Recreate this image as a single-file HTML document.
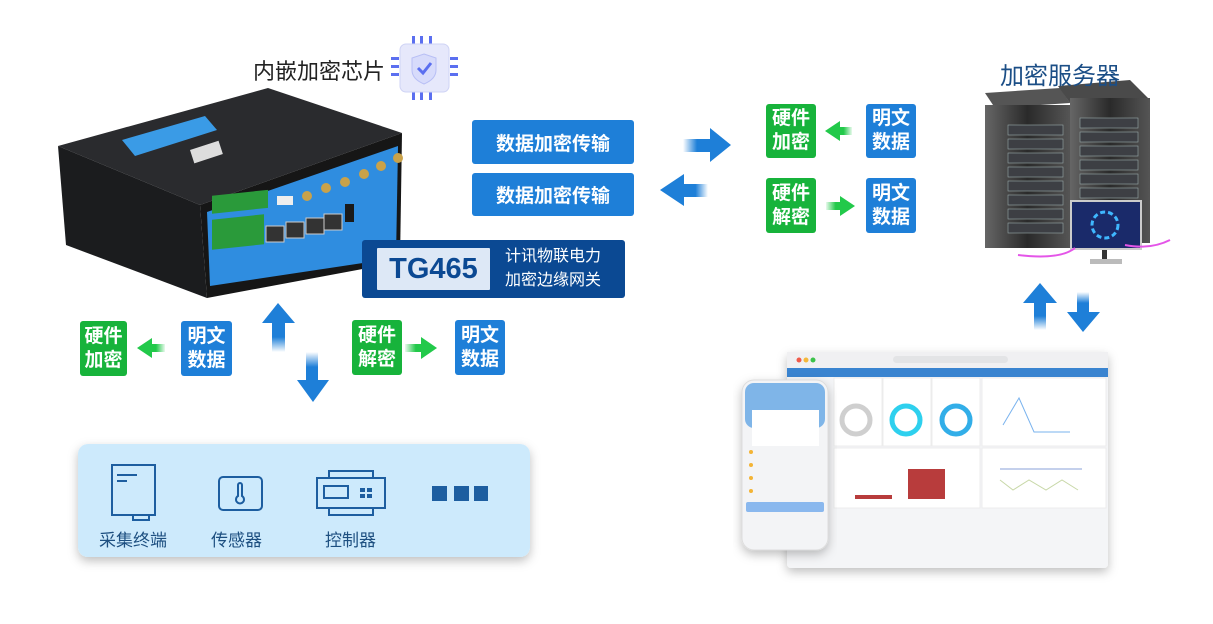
<!DOCTYPE html>
<html><head><meta charset="utf-8"><style>
html,body{margin:0;padding:0;background:#fff;}
body{width:1213px;height:624px;position:relative;overflow:hidden;font-family:"Liberation Sans","Noto Sans CJK SC",sans-serif;}
.b{position:absolute;color:#fff;font-weight:bold;display:flex;align-items:center;justify-content:center;text-align:center;border-radius:3px;}
.blue{background:#1e7fd8;}
.green{background:#17b33b;}
.sq{font-size:19px;line-height:24px;width:50px;height:55px;}
.t{position:absolute;white-space:nowrap;}
</style></head><body>
<svg width="1213" height="624" style="position:absolute;left:0;top:0">
<defs>
<linearGradient id="fu" x1="0" y1="1" x2="0" y2="0"><stop offset="0" stop-color="#1e7fd8" stop-opacity="0"/><stop offset="0.5" stop-color="#1e7fd8"/></linearGradient>
<linearGradient id="fd" x1="0" y1="0" x2="0" y2="1"><stop offset="0" stop-color="#1e7fd8" stop-opacity="0"/><stop offset="0.5" stop-color="#1e7fd8"/></linearGradient>
<linearGradient id="fr" x1="0" y1="0" x2="1" y2="0"><stop offset="0" stop-color="#1e7fd8" stop-opacity="0"/><stop offset="0.5" stop-color="#1e7fd8"/></linearGradient>
<linearGradient id="fl" x1="1" y1="0" x2="0" y2="0"><stop offset="0" stop-color="#1e7fd8" stop-opacity="0"/><stop offset="0.5" stop-color="#1e7fd8"/></linearGradient>
<linearGradient id="gr" x1="0" y1="0" x2="1" y2="0"><stop offset="0" stop-color="#22c94a" stop-opacity="0.1"/><stop offset="0.6" stop-color="#22c94a"/></linearGradient>
<linearGradient id="gl" x1="1" y1="0" x2="0" y2="0"><stop offset="0" stop-color="#22c94a" stop-opacity="0.1"/><stop offset="0.6" stop-color="#22c94a"/></linearGradient>
<linearGradient id="rack" x1="0" y1="0" x2="1" y2="0"><stop offset="0" stop-color="#666"/><stop offset="0.5" stop-color="#2a2a2a"/><stop offset="1" stop-color="#555"/></linearGradient>
<filter id="sh" x="-10%" y="-10%" width="120%" height="130%"><feDropShadow dx="0" dy="4" stdDeviation="5" flood-opacity="0.25"/></filter>
</defs>
<!-- chip -->
<g fill="#5b6ff0">
<rect x="412" y="36" width="3" height="8"/><rect x="420" y="36" width="3" height="8"/><rect x="429" y="36" width="3" height="8"/>
<rect x="412" y="92" width="3" height="8"/><rect x="420" y="92" width="3" height="8"/><rect x="429" y="92" width="3" height="8"/>
<rect x="391" y="57" width="8" height="3"/><rect x="391" y="65" width="8" height="3"/><rect x="391" y="73" width="8" height="3"/>
<rect x="450" y="57" width="8" height="3"/><rect x="450" y="65" width="8" height="3"/><rect x="450" y="73" width="8" height="3"/>
</g>
<rect x="400" y="44" width="49" height="48" rx="6" fill="#e6e8fb" stroke="#cfd3f5"/>
<path d="M424 54 L436 58 L436 70 Q436 79 424 84 Q412 79 412 70 L412 58 Z" fill="#d7dbfb" stroke="#b8bff5"/>
<path d="M418 68 L423 73 L431 63" fill="none" stroke="#5b6ff0" stroke-width="3"/>
<!-- router -->
<polygon points="58,146 268,88 402,133 200,205" fill="#2a2b2e"/>
<polygon points="58,146 200,205 207,298 66,245" fill="#1b1c1e"/>
<polygon points="200,205 402,133 400,262 207,298" fill="#161616"/>
<polygon points="207,212 398,146 396,258 210,286" fill="#2f8de0"/>
<polygon points="122,140 205,116 217,130 135,156" fill="#3a9be6"/>
<rect x="190" y="150" width="30" height="14" fill="#ddd" transform="rotate(-18 190 150)"/>
<g fill="#2a9a3a"><rect x="212" y="218" width="56" height="18" transform="skewY(-6)"/><rect x="212" y="242" width="52" height="30" transform="skewY(-6)"/></g>
<g fill="#333" stroke="#ccc"><rect x="266" y="226" width="18" height="16"/><rect x="286" y="222" width="18" height="16"/><rect x="306" y="218" width="18" height="16"/><rect x="324" y="214" width="18" height="16"/></g>
<rect x="277" y="196" width="16" height="9" fill="#eee"/><rect x="345" y="204" width="9" height="18" fill="#1a1a1a"/>
<g fill="#c9a24a"><circle cx="307" cy="196" r="5"/><circle cx="326" cy="188" r="5"/><circle cx="345" cy="182" r="5"/><circle cx="364" cy="174" r="5"/><circle cx="381" cy="166" r="5"/><circle cx="398" cy="158" r="5"/></g>
<!-- big blue arrows center -->
<rect x="683" y="139" width="28" height="13" fill="url(#fr)"/><polygon points="710,128 731,145 710,162" fill="#1e7fd8"/>
<rect x="683" y="184" width="25" height="13" fill="url(#fl)"/><polygon points="684,174 660,190 684,206" fill="#1e7fd8"/>
<!-- green small arrows -->
<rect x="838" y="127" width="14" height="8" fill="url(#gl)"/><polygon points="840,121 825,131 840,141" fill="#22c94a"/>
<rect x="826" y="202" width="16" height="8" fill="url(#gr)"/><polygon points="840,196 855,206 840,216" fill="#22c94a"/>
<rect x="150" y="344" width="15" height="8" fill="url(#gl)"/><polygon points="152,338 137,348 152,358" fill="#22c94a"/>
<rect x="405" y="344" width="18" height="8" fill="url(#gr)"/><polygon points="421,337 437,348 421,359" fill="#22c94a"/>
<!-- up/down arrows left -->
<polygon points="278,303 295,323 262,323" fill="#1e7fd8"/><rect x="272" y="322" width="13" height="30" fill="url(#fu)"/>
<rect x="306" y="352" width="12" height="30" fill="url(#fd)"/><polygon points="297,380 329,380 313,402" fill="#1e7fd8"/>
<!-- up/down arrows right -->
<polygon points="1040,283 1057,303 1023,303" fill="#1e7fd8"/><rect x="1034" y="302" width="12" height="28" fill="url(#fu)"/>
<rect x="1077" y="292" width="12" height="22" fill="url(#fd)"/><polygon points="1067,312 1100,312 1083,332" fill="#1e7fd8"/>
<!-- server -->
<polygon points="985,93 1060,88 1070,103 995,108" fill="#555"/>
<polygon points="1058,86 1130,80 1148,98 1070,103" fill="#4a4a4a"/>
<rect x="985" y="105" width="85" height="143" fill="url(#rack)"/>
<rect x="1070" y="98" width="80" height="145" fill="url(#rack)"/>
<g fill="#3d3f44" stroke="#9aa" stroke-width="0.6">
<rect x="1008" y="125" width="55" height="10"/><rect x="1008" y="139" width="55" height="10"/><rect x="1008" y="153" width="55" height="10"/><rect x="1008" y="167" width="55" height="10"/><rect x="1008" y="181" width="55" height="10"/><rect x="1008" y="195" width="55" height="10"/><rect x="1008" y="209" width="55" height="10"/><rect x="1008" y="223" width="55" height="10"/>
<rect x="1080" y="118" width="58" height="10"/><rect x="1080" y="132" width="58" height="10"/><rect x="1080" y="146" width="58" height="10"/><rect x="1080" y="160" width="58" height="10"/><rect x="1080" y="174" width="58" height="10"/><rect x="1080" y="188" width="58" height="10"/>
</g>
<rect x="1071" y="201" width="70" height="48" fill="#1a2a6a" stroke="#ccc" stroke-width="2"/>
<circle cx="1105" cy="225" r="13" fill="none" stroke="#3fb7ff" stroke-width="3" stroke-dasharray="5 3"/>
<rect x="1102" y="250" width="5" height="10" fill="#333"/><rect x="1090" y="259" width="32" height="5" fill="#bbb"/>
<path d="M1018 255 Q1060 260 1075 248 M1125 245 Q1150 250 1170 240" stroke="#e455e8" stroke-width="2" fill="none"/>
<!-- browser window -->
<g filter="url(#sh)">
<rect x="787" y="352" width="321" height="216" rx="4" fill="#f4f5f7"/>
</g>
<rect x="787" y="352" width="321" height="16" fill="#f0f0f2"/>
<circle cx="799" cy="360" r="2.5" fill="#f05a4a"/><circle cx="806" cy="360" r="2.5" fill="#f5b83a"/><circle cx="813" cy="360" r="2.5" fill="#3cc24a"/>
<rect x="893" y="356" width="115" height="7" rx="3.5" fill="#e3e4e6"/>
<rect x="787" y="368" width="321" height="9" fill="#3a84d0"/>
<g fill="#fff" stroke="#ececec"><rect x="834" y="378" width="48" height="68"/><rect x="883" y="378" width="48" height="68"/><rect x="932" y="378" width="48" height="68"/><rect x="982" y="378" width="124" height="68"/><rect x="834" y="448" width="146" height="60"/><rect x="982" y="448" width="124" height="60"/></g>
<circle cx="856" cy="420" r="14" fill="none" stroke="#cfcfcf" stroke-width="5"/>
<circle cx="906" cy="420" r="14" fill="none" stroke="#2ed0ee" stroke-width="5"/>
<circle cx="956" cy="420" r="14" fill="none" stroke="#32aee8" stroke-width="5"/>
<polyline points="1003,425 1019,398 1034,432 1070,432" fill="none" stroke="#7ab3ee"/>
<rect x="855" y="495" width="37" height="4" fill="#b83c3c"/><rect x="908" y="469" width="37" height="30" fill="#b83c3c"/>
<polyline points="1000,480 1013,490 1029,480 1046,490 1062,480 1078,490" fill="none" stroke="#c8d8a8"/>
<line x1="1000" y1="469" x2="1082" y2="469" stroke="#8aa0d8"/>
<!-- phone -->
<g filter="url(#sh)"><rect x="742" y="380" width="86" height="170" rx="12" fill="#f3f4f6" stroke="#ddd"/></g>
<rect x="745" y="383" width="80" height="45" rx="9" fill="#7fb5e8"/>
<rect x="752" y="410" width="67" height="36" fill="#fff"/>
<rect x="746" y="502" width="78" height="10" rx="2" fill="#8ab8ee"/>
<g fill="#f3b436"><circle cx="751" cy="452" r="2"/><circle cx="751" cy="465" r="2"/><circle cx="751" cy="478" r="2"/><circle cx="751" cy="491" r="2"/></g>
<!-- bottom panel -->
<g filter="url(#sh)"><rect x="78" y="444" width="452" height="113" rx="10" fill="#cdeafc"/></g>
<g fill="none" stroke="#1d5ea0" stroke-width="2">
<rect x="112" y="465" width="43" height="50"/><rect x="133" y="515" width="16" height="5"/>
<line x1="117" y1="475" x2="137" y2="475"/><line x1="117" y1="481" x2="127" y2="481"/>
<rect x="219" y="477" width="43" height="33" rx="4"/>
<path d="M238 485 v11 a4 4 0 1 0 4 0 v-11 a2 2 0 0 0 -4 0"/>
<rect x="317" y="478" width="68" height="30"/><rect x="329" y="471" width="44" height="7"/><rect x="329" y="508" width="44" height="7"/>
<rect x="324" y="486" width="24" height="12"/>
</g>
<g fill="#1d5ea0"><rect x="360" y="488" width="5" height="4"/><rect x="367" y="488" width="5" height="4"/><rect x="360" y="494" width="5" height="4"/><rect x="367" y="494" width="5" height="4"/>
<rect x="432" y="486" width="15" height="15"/><rect x="454" y="486" width="15" height="15"/><rect x="474" y="486" width="14" height="15"/></g>
</svg>
<div class="t" style="left:253px;top:54px;font-size:22px;color:#222;">内嵌加密芯片</div>
<div class="b blue" style="left:472px;top:120px;width:162px;height:44px;font-size:19px;">数据加密传输</div>
<div class="b blue" style="left:472px;top:173px;width:162px;height:43px;font-size:19px;">数据加密传输</div>
<div class="b" style="left:362px;top:240px;width:263px;height:58px;background:#0b4993;"></div>
<div class="b" style="left:377px;top:248px;width:113px;height:42px;background:#dde8f6;color:#0b4993;font-size:29px;border-radius:1px;">TG465</div>
<div class="t" style="left:505px;top:245px;font-size:16px;line-height:24px;color:#fff;">计讯物联电力<br>加密边缘网关</div>
<div class="b green sq" style="left:80px;top:321px;width:47px;">硬件<br>加密</div>
<div class="b blue sq" style="left:181px;top:321px;width:51px;">明文<br>数据</div>
<div class="b green sq" style="left:352px;top:320px;">硬件<br>解密</div>
<div class="b blue sq" style="left:455px;top:320px;">明文<br>数据</div>
<div class="b green sq" style="left:766px;top:104px;height:54px;">硬件<br>加密</div>
<div class="b blue sq" style="left:866px;top:104px;height:54px;">明文<br>数据</div>
<div class="b green sq" style="left:766px;top:178px;">硬件<br>解密</div>
<div class="b blue sq" style="left:866px;top:178px;">明文<br>数据</div>
<div class="t" style="left:1000px;top:56px;font-size:24px;color:#1b4e86;">加密服务器</div>
<div class="t" style="left:99px;top:526px;font-size:17px;color:#1d4f80;">采集终端</div>
<div class="t" style="left:211px;top:526px;font-size:17px;color:#1d4f80;">传感器</div>
<div class="t" style="left:325px;top:526px;font-size:17px;color:#1d4f80;">控制器</div>
</body></html>
